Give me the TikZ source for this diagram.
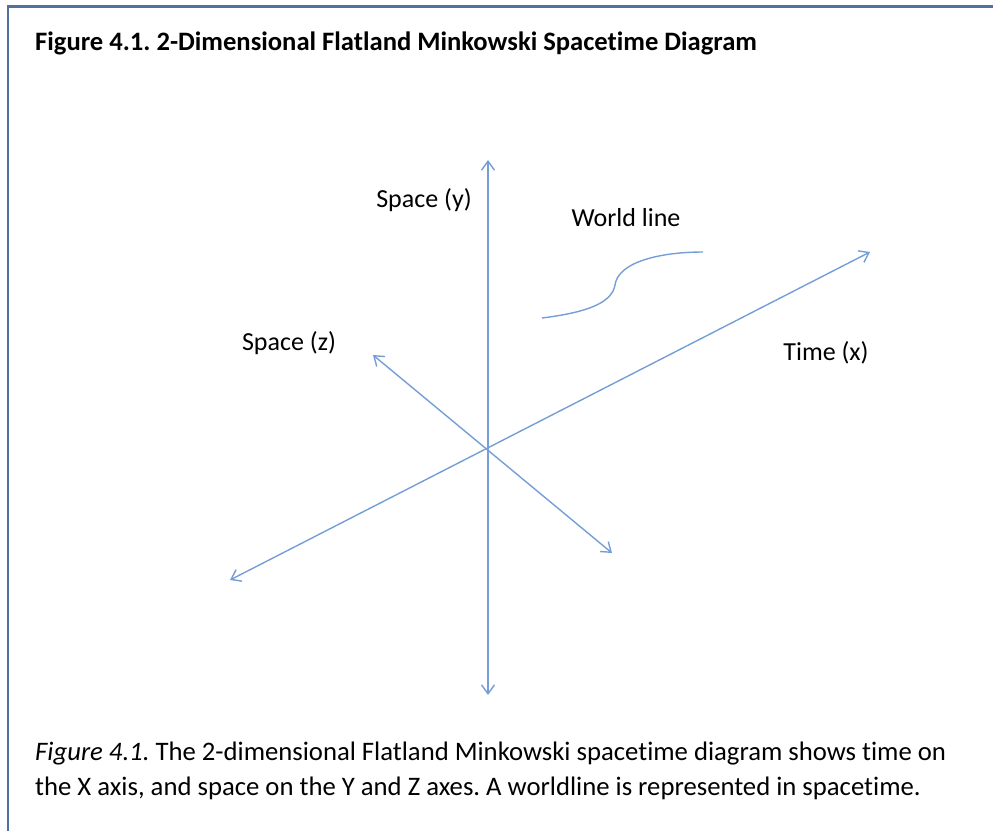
\documentclass[tikz,border=0pt]{standalone}
\usepackage{fontspec}
\setmainfont{Carlito}[Ligatures=NoCommon]
\usetikzlibrary{arrows.meta}
\definecolor{axisblue}{RGB}{118,158,214}
\definecolor{framecol}{RGB}{84,112,160}
\frenchspacing
\begin{document}
\begin{tikzpicture}[x=1pt,y=-1pt,
  axis/.style={draw=axisblue,line width=1.4pt,{Straight Barb[length=9pt,width=13pt,line width=1.4pt]}-{Straight Barb[length=9pt,width=13pt,line width=1.4pt]}},
  lbl/.style={font=\fontsize{26}{30}\selectfont,inner sep=0pt,anchor=base},
  captext/.style={font=\fontsize{26.7}{31}\selectfont,inner sep=0pt,anchor=base west}]
\useasboundingbox (0,0) rectangle (993,831);
% frame
\draw[framecol,line width=2.5pt] (8,831) -- (8,6.5) -- (993,6.5);
% title
\node[captext,font=\fontsize{26.6}{30}\selectfont\bfseries] (title) at (35,50) {Figure 4.1. 2-Dimensional Flatland Minkowski Spacetime Diagram};
% axes
\coordinate (O) at (488,450);
\coordinate (ytop) at (488,160);
\coordinate (ybot) at (488,695);
\coordinate (xend) at (870,252);
\coordinate (xneg) at (230,580);
\coordinate (zend) at (373,355);
\coordinate (zneg) at (612,553);
\draw[axis] (ybot) -- (ytop);
\draw[axis] (xneg) -- (xend);
\draw[axis] (zneg) -- (zend);
% world line
\coordinate (w0) at (542,318);
\coordinate (w1) at (615,285);
\coordinate (w2) at (703,252);
\draw[axisblue,line width=1.4pt] (w0) .. controls (590,312) and (612,302) .. (w1) .. controls (618,262) and (660,252) .. (w2);
% labels
\node[lbl] (ly) at (424,207) {Space (y)};
\node[lbl] (lw) at (626,226) {World line};
\node[lbl] (lz) at (289,350) {Space (z)};
\node[lbl] (lx) at (826,360) {Time (x)};
% caption
\node[captext] (c1) at (35,760) {\textit{Figure 4.1.} The 2-dimensional Flatland Minkowski spacetime diagram shows time on};
\node[captext] (c2) at (35,795) {the X axis, and space on the Y and Z axes. A worldline is represented in spacetime.};
\end{tikzpicture}
\end{document}
